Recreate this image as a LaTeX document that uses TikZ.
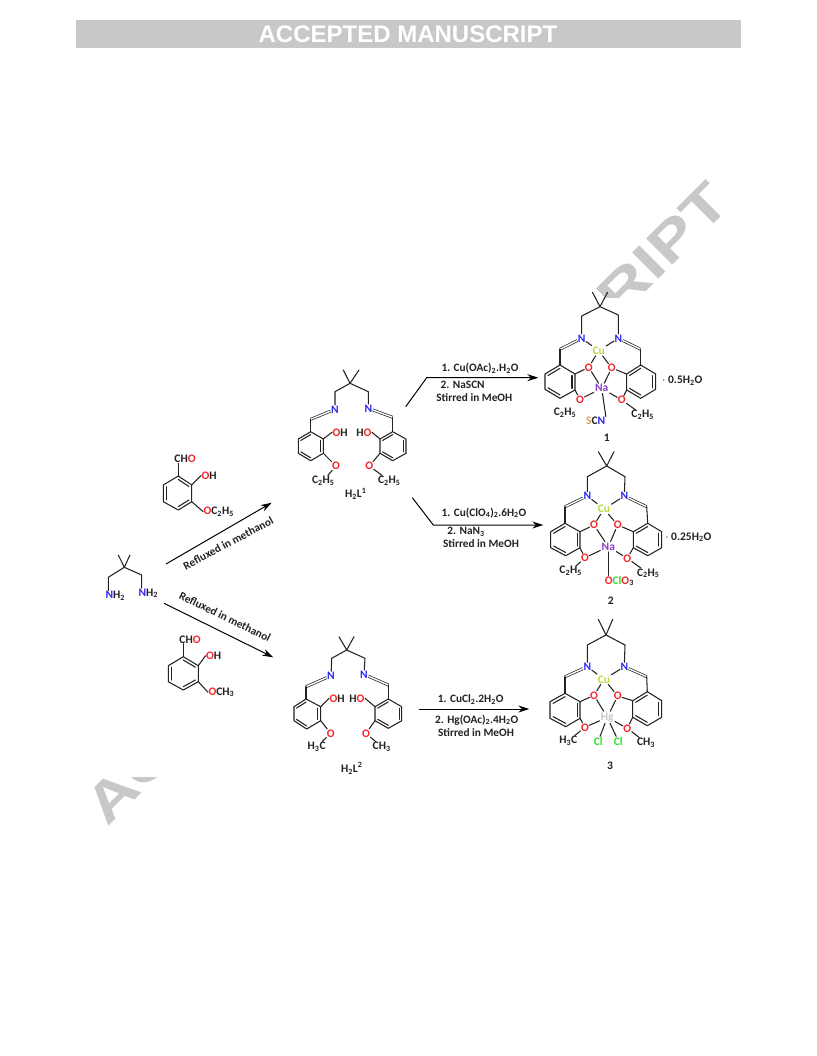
\documentclass[tikz,border=0pt]{standalone}
\usepackage{fontspec}
\setmainfont{Carlito}
\newfontfamily\headfont{Liberation Sans}
\usetikzlibrary{calc,arrows.meta}
\definecolor{wmgray}{HTML}{C7C8CA}
\definecolor{inkcol}{HTML}{222222}
\definecolor{oxycol}{HTML}{F5252A}
\definecolor{nitcol}{HTML}{2A2AF0}
\definecolor{cucol}{HTML}{B4DC3C}
\definecolor{nacol}{HTML}{8E3FC8}
\definecolor{hgcol}{HTML}{C8C8CC}
\definecolor{clcol}{HTML}{2FE02F}
\definecolor{scol}{HTML}{E0A060}
\newcommand{\oxy}{\textcolor{oxycol}{O}}
\newcommand{\nit}{\textcolor{nitcol}{N}}
\newcommand{\sbs}[1]{\textsubscript{#1}}
\newcommand{\ethyl}{C\sbs{2}H\sbs{5}}
% ring: name, six corners from the top clockwise, list of double bonds
\newcommand{\hexring}[8]{
	\path #2 coordinate (#1a) #3 coordinate (#1b) #4 coordinate (#1c)
		#5 coordinate (#1d) #6 coordinate (#1e) #7 coordinate (#1f);
	\coordinate (#1o) at ($(#1a)!.5!(#1d)$);
	\draw[bond] (#1a)--(#1b)--(#1c)--(#1d)--(#1e)--(#1f)--cycle;
	\foreach \p/\q in {#8}{
		\draw[bond] ($(#1\p)!.2!(#1o)$)--($(#1\q)!.2!(#1o)$);
	}
}
\tikzset{
	bond/.style={inkcol,line width=1.05pt,line cap=round,line join=round},
	imine/.style={inkcol,line width=.7pt,double,double distance=1.4pt},
	rxn/.style={black,line width=1pt,-{Stealth[length=11pt,width=7pt]}},
	atom/.style={font=\fontsize{11.5}{12}\selectfont\bfseries,text=inkcol,inner sep=.4pt},
	cond/.style={font=\fontsize{11.3}{12}\selectfont\bfseries,text=inkcol,inner sep=0pt},
	metal/.style={atom,inner sep=1.2pt},
	wmark/.style={font=\headfont\bfseries\fontsize{54}{54}\selectfont,text=wmgray,rotate=45,inner sep=0pt},
}
\begin{document}
\begin{tikzpicture}[x=1pt,y=-1pt]
	\useasboundingbox (0,0) rectangle (816,1056);
	% header and watermark
	\node[wmark,anchor=base west] (stampa) at (107,828) {\scalebox{1.3}[1]{AC}};
	\node[wmark,anchor=base east] (stampb) at (733,205) {\scalebox{1.3}[1]{RIPT}};
	\fill[white] (85,298) rectangle (735,777);
	\fill[wmgray] (76,20) rectangle (741,48);
	\node[font=\headfont\bfseries\fontsize{24}{24}\selectfont,text=white] (head) at (408,34) {ACCEPTED MANUSCRIPT};

	% diamine
	\coordinate (amc) at (124.3,567.3);
	\coordinate (amma) at (118.3,555);
	\coordinate (ammb) at (130,555);
	\coordinate (amwl) at (108.3,577.3);
	\coordinate (amwr) at (141.7,575);
	\node[atom,anchor=west] (amnl) at (105,596) {\nit H\sbs{2}};
	\node[atom,anchor=west] (amnr) at (138,593.3) {\nit H\sbs{2}};
	\draw[bond] (amma)--(amc)--(ammb);
	\draw[bond] (amwl |- amnl.north)--(amwl)--(amc)--(amwr)--(amwr |- amnr.north);

	% aldehydes
	\hexring{pa}{(178.3,476)}{(191.7,485)}{(191.7,501.7)}{(178.3,510)}{(163.3,501.7)}{(163.3,485)}{a/b,c/d,e/f}
	\node[atom] (pacho) at (185,459) {CH\oxy};
	\node[atom,anchor=west] (paoh) at (201,475.5) {\oxy H};
	\node[atom,anchor=west] (paet) at (203,511.5) {\oxy\ethyl};
	\draw[bond] (paa)--(paa |- pacho.south);
	\draw[bond] (pab)--(paoh.west);
	\draw[bond] (pac)--(paet.west);
	\hexring{pb}{(183.3,656.7)}{(198.3,665.7)}{(198.3,681.7)}{(183.3,690)}{(168.3,681.7)}{(168.3,665.7)}{a/b,c/d,e/f}
	\node[atom] (pbcho) at (190,639.3) {CH\oxy};
	\node[atom,anchor=west] (pboh) at (205.5,655.7) {\oxy H};
	\node[atom,anchor=west] (pbme) at (208,692.3) {\oxy CH\sbs{3}};
	\draw[bond] (pba)--(pba |- pbcho.south);
	\draw[bond] (pbb)--(pboh.west);
	\draw[bond] (pbc)--(pbme.west);

	% condensation arrows
	\coordinate (upa) at (166,564);
	\coordinate (upb) at (271.7,502.7);
	\coordinate (dna) at (164,603.3);
	\coordinate (dnb) at (273.3,657.3);
	\draw[rxn] (upa)--(upb);
	\draw[rxn] (dna)--(dnb);
	\node[cond,rotate=28] (uplab) at (228.3,543.3) {Refluxed in methanol};
	\node[cond,rotate=-26] (dnlab) at (225,616.7) {Refluxed in methanol};

	% H2L1
	\coordinate (lac) at (350,383.3);
	\coordinate (lama) at (343.3,370);
	\coordinate (lamb) at (359,370);
	\coordinate (lawl) at (335,391.7);
	\coordinate (lawr) at (368.3,391.7);
	\coordinate (laiml) at (310.7,419.3);
	\coordinate (laimr) at (392.7,417.3);
	\node[atom] (lanl) at (335,409.3) {\nit};
	\node[atom] (lanr) at (368.3,408.3) {\nit};
	\draw[bond] (lama)--(lac)--(lamb);
	\draw[bond] (lanl)--(lawl)--(lac)--(lawr)--(lanr);
	\draw[imine] (laiml)--(lanl);
	\draw[imine] (laimr)--(lanr);
	\hexring{lal}{(310.7,431.7)}{(323.3,439)}{(323.3,453.3)}{(310.7,460.7)}{(298.3,453.3)}{(298.3,439)}{b/c,d/e,f/a}
	\hexring{lar}{(392.7,431.7)}{(406,439)}{(406,453.3)}{(392.7,460.7)}{(380,453.3)}{(380,439)}{b/c,d/e,f/a}
	\node[atom,anchor=west] (laoh) at (332,432.3) {\oxy H};
	\node[atom,anchor=east] (laho) at (372,432.3) {H\oxy};
	\node[atom] (laol) at (336,466) {\oxy};
	\node[atom] (laor) at (369.3,466) {\oxy};
	\node[atom] (laetl) at (323.3,480.7) {\ethyl};
	\node[atom] (laetr) at (389.3,480.7) {\ethyl};
	\foreach \a/\b in {lalb/laoh.west,larf/laho.east,laimr/lara,laiml/lala,lalc/laol,lare/laor,laol/laetl,laor/laetr}{
		\draw[bond] (\a)--(\b);
	}
	\node[atom] (lalab) at (355.7,494) {H\sbs{2}L\textsuperscript{1}};

	% H2L2
	\coordinate (lbc) at (346.7,650);
	\coordinate (lbma) at (339,636.7);
	\coordinate (lbmb) at (354,636.7);
	\coordinate (lbwl) at (331.7,658.3);
	\coordinate (lbwr) at (365,658.3);
	\coordinate (lbiml) at (306,686.7);
	\coordinate (lbimr) at (388.3,685);
	\node[atom] (lbnl) at (331,675.7) {\nit};
	\node[atom] (lbnr) at (364,674.3) {\nit};
	\draw[bond] (lbma)--(lbc)--(lbmb);
	\draw[bond] (lbnl)--(lbwl)--(lbc)--(lbwr)--(lbnr);
	\draw[imine] (lbiml)--(lbnl);
	\draw[imine] (lbimr)--(lbnr);
	\hexring{lbl}{(306,699)}{(320.7,706.7)}{(320.7,720.7)}{(306.7,729)}{(294,720.7)}{(294,706.7)}{b/c,d/e,f/a}
	\hexring{lbr}{(388.3,699)}{(401.7,706.7)}{(401.7,720.7)}{(388.3,728.3)}{(375,720.7)}{(375,706.7)}{b/c,d/e,f/a}
	\node[atom,anchor=west] (lboh) at (329,698.3) {\oxy H};
	\node[atom,anchor=east] (lbho) at (365,698.3) {H\oxy};
	\node[atom] (lbol) at (330.7,733.3) {\oxy};
	\node[atom] (lbor) at (366,733.3) {\oxy};
	\node[atom] (lbmel) at (316.7,746.7) {H\sbs{3}C};
	\node[atom] (lbmer) at (381.7,746.7) {CH\sbs{3}};
	\foreach \a/\b in {lblb/lboh.west,lbrf/lbho.east,lbimr/lbra,lbiml/lbla,lblc/lbol,lbre/lbor,lbol/lbmel,lbor/lbmer}{
		\draw[bond] (\a)--(\b);
	}
	\node[atom] (lblab) at (351.7,768.3) {H\sbs{2}L\textsuperscript{2}};

	% metalation arrows and conditions
	\coordinate (ra) at (405.7,406.7);
	\coordinate (rb) at (426.7,377.7);
	\coordinate (rc) at (538.3,377.7);
	\draw[rxn] (ra)--(rb)--(rc);
	\node[cond] (raa) at (480,368.3) {1. Cu(OAc)\sbs{2}.H\sbs{2}O};
	\node[cond] (rab) at (462.7,385) {2. NaSCN};
	\node[cond] (rac) at (474.3,397.7) {Stirred in MeOH};
	\coordinate (sa) at (412.3,497.7);
	\coordinate (sb) at (433.3,525);
	\coordinate (sc) at (543.3,525);
	\draw[rxn] (sa)--(sb)--(sc);
	\node[cond] (saa) at (484,512.7) {1. Cu(ClO\sbs{4})\sbs{2}.6H\sbs{2}O};
	\node[cond] (sab) at (466,531.7) {2. NaN\sbs{3}};
	\node[cond] (sac) at (481,544) {Stirred in MeOH};
	\coordinate (ta) at (419.3,709);
	\coordinate (tb) at (529.3,709);
	\draw[rxn] (ta)--(tb);
	\node[cond] (taa) at (470.7,699.3) {1. CuCl\sbs{2}.2H\sbs{2}O};
	\node[cond] (tab) at (476.7,720) {2. Hg(OAc)\sbs{2}.4H\sbs{2}O};
	\node[cond] (tac) at (476,732.7) {Stirred in MeOH};

	% complex 1
	\coordinate (cac) at (600,306.7);
	\coordinate (cama) at (592.5,292.4);
	\coordinate (camb) at (607.5,292.4);
	\coordinate (cawl) at (581.7,316);
	\coordinate (cawr) at (618.3,315);
	\coordinate (caiml) at (560,349.3);
	\coordinate (caimr) at (640.7,349.3);
	\node[atom] (canl) at (581.7,338.3) {\nit};
	\node[atom] (canr) at (618.3,338.3) {\nit};
	\node[metal] (cacu) at (598.7,350.7) {\textcolor{cucol}{Cu}};
	\node[metal] (cana) at (601.7,388.3) {\textcolor{nacol}{Na}};
	\node[atom] (caota) at (588.7,367.3) {\oxy};
	\node[atom] (caotb) at (611.7,368) {\oxy};
	\node[atom] (caoba) at (580,399.3) {\oxy};
	\node[atom] (caobb) at (621.7,400) {\oxy};
	\node[atom] (caetl) at (565,412.7) {\ethyl};
	\node[atom] (caetr) at (642.7,415) {\ethyl};
	\node[atom] (caxa) at (595.7,421) {\textcolor{scol}{S}C\nit};
	\draw[bond] (cama)--(cac)--(camb);
	\draw[bond] (canl)--(cawl)--(cac)--(cawr)--(canr);
	\draw[imine] (caiml)--(canl);
	\draw[imine] (caimr)--(canr);
	\hexring{cal}{(560,365)}{(575,374)}{(575,390)}{(560,398.3)}{(545,389.3)}{(545,374)}{b/c,d/e,f/a}
	\hexring{car}{(640.7,365)}{(655.7,374)}{(655.7,389.3)}{(640.7,398.3)}{(626.7,390)}{(626.7,374)}{b/c,d/e,f/a}
	\foreach \a/\b in {caiml/cala,caimr/cara,canl/cacu,canr/cacu,cacu/caota,cacu/caotb,caota/cana,caotb/cana,caoba/cana,caobb/cana,calb/caota,calc/caoba,carf/caotb,care/caobb,caobb/caetr,cana/caxa.north east}{
		\draw[bond] (\a)--(\b);
	}
	\node[atom] (cawat) at (682.3,381) {$\cdot$ 0.5H\sbs{2}O};
	\node[atom] (calab) at (606.7,437.3) {1};

	% complex 2
	\coordinate (cbc) at (606.7,466);
	\coordinate (cbma) at (598.3,451.7);
	\coordinate (cbmb) at (614,451.7);
	\coordinate (cbwl) at (587.3,476.7);
	\coordinate (cbwr) at (625,476.7);
	\coordinate (cbiml) at (565,506.7);
	\coordinate (cbimr) at (646.7,506.7);
	\node[atom] (cbnl) at (587.3,496) {\nit};
	\node[atom] (cbnr) at (624.3,496) {\nit};
	\node[metal] (cbcu) at (604,509) {\textcolor{cucol}{Cu}};
	\node[metal] (cbna) at (608.3,546.7) {\textcolor{nacol}{Na}};
	\node[atom] (cbota) at (594,525) {\oxy};
	\node[atom] (cbotb) at (617.7,525) {\oxy};
	\node[atom] (cboba) at (585,557.7) {\oxy};
	\node[atom] (cbobb) at (627.3,558.3) {\oxy};
	\node[atom] (cbetl) at (570.7,571) {\ethyl};
	\node[atom] (cbetr) at (648.3,573.3) {\ethyl};
	\node[atom] (cbxa) at (619.3,581) {\oxy\textcolor{clcol}{Cl}\oxy\sbs{3}};
	\draw[bond] (cbma)--(cbc)--(cbmb);
	\draw[bond] (cbnl)--(cbwl)--(cbc)--(cbwr)--(cbnr);
	\draw[imine] (cbiml)--(cbnl);
	\draw[imine] (cbimr)--(cbnr);
	\hexring{cbl}{(565,523.3)}{(580,531.7)}{(580,547.7)}{(565.7,555.7)}{(550.7,547.7)}{(550.7,531.7)}{b/c,d/e,f/a}
	\hexring{cbr}{(647.7,523.3)}{(661.7,531.7)}{(661.7,547.7)}{(647.7,555.7)}{(633.3,547.7)}{(633.3,531.7)}{b/c,d/e,f/a}
	\foreach \a/\b in {cbiml/cbla,cbimr/cbra,cbnl/cbcu,cbnr/cbcu,cbcu/cbota,cbcu/cbotb,cbota/cbna,cbotb/cbna,cboba/cbna,cbobb/cbna,cblb/cbota,cblc/cboba,cbrf/cbotb,cbre/cbobb,cbobb/cbetr,cboba/cbetl}{
		\draw[bond] (\a)--(\b);
	}
	\draw[bond] (cbna)--(cbna |- cbxa.north);
	\node[atom] (cbwat) at (688.3,537.3) {$\cdot$ 0.25H\sbs{2}O};
	\node[atom] (cblab) at (610.7,600.7) {2};

	% complex 3
	\coordinate (ccc) at (606,635);
	\coordinate (ccma) at (598.3,619.3);
	\coordinate (ccmb) at (612.7,619.3);
	\coordinate (ccwl) at (587.3,645);
	\coordinate (ccwr) at (625,645);
	\coordinate (cciml) at (565,676.7);
	\coordinate (ccimr) at (646.7,676.7);
	\node[atom] (ccnl) at (587.3,666.7) {\nit};
	\node[atom] (ccnr) at (624.3,666.7) {\nit};
	\node[metal] (cccu) at (604,679.3) {\textcolor{cucol}{Cu}};
	\node[metal] (cchg) at (607.3,717.3) {\textcolor{hgcol}{Hg}};
	\node[atom] (ccota) at (594,695.3) {\oxy};
	\node[atom] (ccotb) at (617.7,696) {\oxy};
	\node[atom] (ccoba) at (585,727.3) {\oxy};
	\node[atom] (ccobb) at (627.3,728.3) {\oxy};
	\node[atom] (ccmel) at (568.3,740.7) {H\sbs{3}C};
	\node[atom] (ccmer) at (646,742.7) {CH\sbs{3}};
	\node[atom] (cccla) at (598.3,741) {\textcolor{clcol}{Cl}};
	\node[atom] (ccclb) at (618.3,741) {\textcolor{clcol}{Cl}};
	\draw[bond] (ccma)--(ccc)--(ccmb);
	\draw[bond] (ccnl)--(ccwl)--(ccc)--(ccwr)--(ccnr);
	\draw[imine] (cciml)--(ccnl);
	\draw[imine] (ccimr)--(ccnr);
	\hexring{ccl}{(565,693.3)}{(580,701.7)}{(580,718.3)}{(565.7,726.7)}{(550,718.3)}{(550,701.7)}{b/c,d/e,f/a}
	\hexring{ccr}{(647.3,691.7)}{(661.7,700.7)}{(661.7,717.3)}{(647.3,725.7)}{(632.7,717.3)}{(632.7,700.7)}{b/c,d/e,f/a}
	\foreach \a/\b in {cciml/ccla,ccimr/ccra,ccnl/cccu,ccnr/cccu,cccu/ccota,cccu/ccotb,ccota/cchg,ccotb/cchg,ccoba/cchg,ccobb/cchg,cclb/ccota,cclc/ccoba,ccrf/ccotb,ccre/ccobb,ccobb/ccmer,ccoba/ccmel,cchg/cccla,cchg/ccclb}{
		\draw[bond] (\a)--(\b);
	}
	\node[atom] (cclab) at (610,765.7) {3};
\end{tikzpicture}
\end{document}
